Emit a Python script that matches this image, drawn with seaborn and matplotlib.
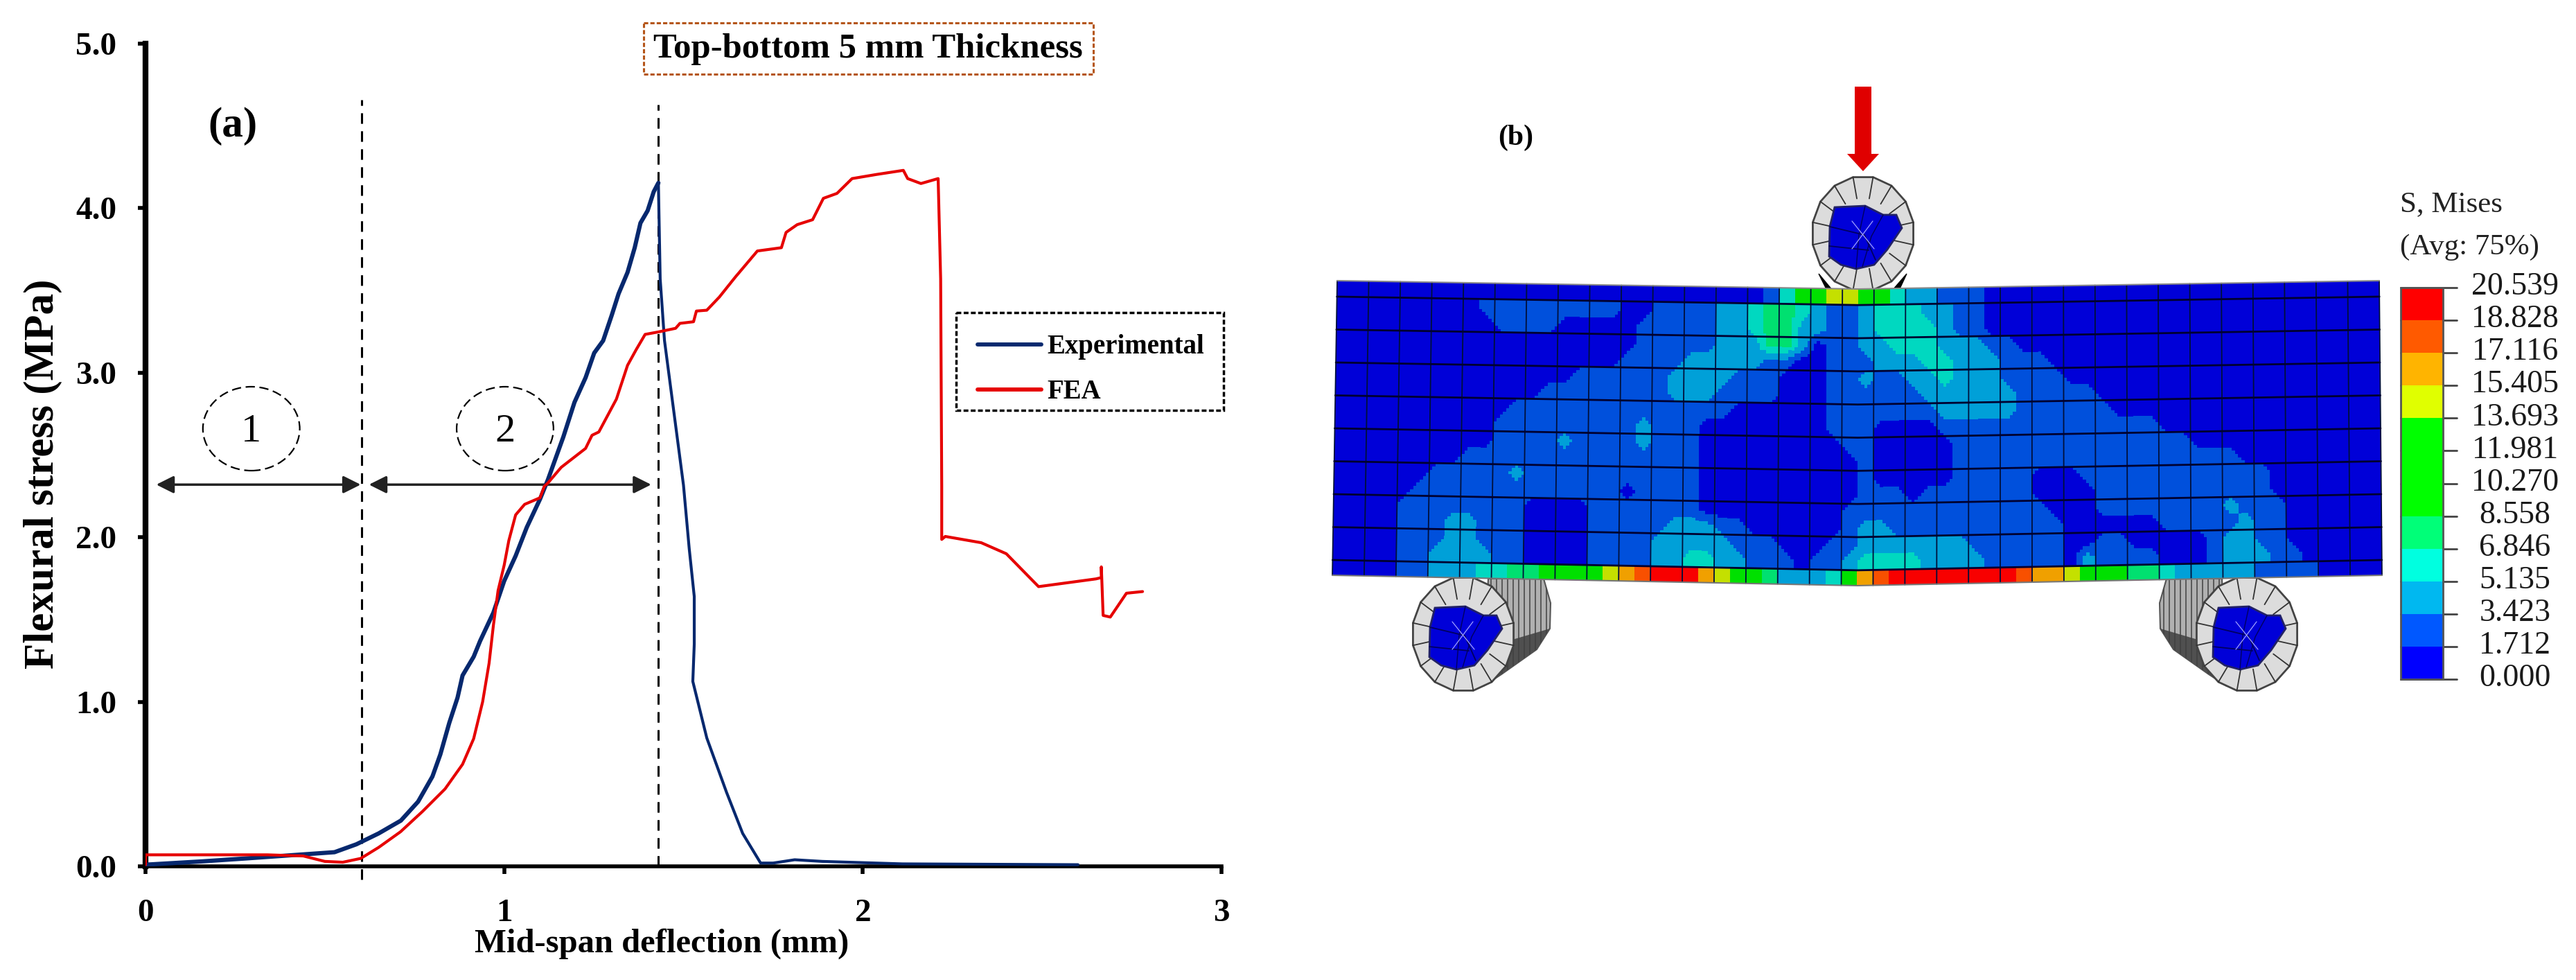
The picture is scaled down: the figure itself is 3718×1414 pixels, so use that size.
import numpy as np
import pandas as pd
import seaborn as sns
import matplotlib
matplotlib.use("Agg")
import matplotlib.pyplot as plt
from matplotlib.colors import ListedColormap
from matplotlib.patches import Ellipse, Polygon, Rectangle

# flexural curves
exp_x = [0, .157, .28, .403, .527, .588, .65, .712, .76, .80, .822, .847, .87, .884, .915, .933, .97, 1.0, 1.032,
         1.063, 1.10, 1.122, 1.165, 1.196, 1.227, 1.251, 1.276, 1.30, 1.319, 1.344, 1.364, 1.38, 1.40, 1.417, 1.43,
         1.435, 1.447, 1.50, 1.516, 1.53, 1.53, 1.526, 1.565, 1.62, 1.665, 1.715, 1.75, 1.81, 1.887, 2.11, 2.6]
exp_y = [.01, .03, .048, .067, .086, .134, .20, .278, .393, .546, .68, .872, 1.025, 1.16, 1.274, 1.37, 1.542, 1.734,
         1.887, 2.06, 2.232, 2.35, 2.61, 2.82, 2.97, 3.12, 3.195, 3.35, 3.48, 3.61, 3.76, 3.91, 3.985, 4.10, 4.154,
         3.57, 3.196, 2.316, 1.93, 1.64, 1.35, 1.124, .78, .45, .20, .02, .02, .04, .03, .015, .01]
fea_x = [0, 0, .157, .34, .44, .50, .55, .60, .65, .711, .773, .835, .884, .915, .94, .958, .97, .983, 1.0, 1.013,
         1.032, 1.057, 1.10, 1.112, 1.122, 1.159, 1.227, 1.245, 1.264, 1.313, 1.344, 1.368, 1.393, 1.43, 1.478, 1.49,
         1.528, 1.536, 1.565, 1.60, 1.644, 1.706, 1.773, 1.786, 1.817, 1.86, 1.89, 1.928, 1.97, 2.038, 2.113, 2.125,
         2.162, 2.21, 2.217, 2.22, 2.22, 2.23, 2.33, 2.40, 2.49, 2.65, 2.665, 2.665, 2.67, 2.69, 2.735, 2.78]
fea_y = [.01, .07, .07, .07, .063, .03, .025, .048, .115, .21, .335, .47, .62, .776, 1.0, 1.235, 1.465, 1.676, 1.83,
         1.98, 2.136, 2.2, 2.24, 2.31, 2.33, 2.425, 2.54, 2.62, 2.64, 2.84, 3.045, 3.14, 3.233, 3.248, 3.27, 3.30,
         3.31, 3.375, 3.38, 3.46, 3.58, 3.74, 3.76, 3.853, 3.90, 3.93, 4.06, 4.09, 4.18, 4.205, 4.23, 4.18,
         4.15, 4.18, 3.57, 2.31, 1.987, 2.005, 1.967, 1.90, 1.70, 1.747, 1.755, 1.82, 1.525, 1.515, 1.66, 1.67]
series_names = ["Experimental", "FEA"]
series_colors = ["#06286e", "#e60000"]
x_ticks = [0, 1, 2, 3]
y_ticks = [0, 1, 2, 3, 4, 5]
region_bounds = [0.603, 1.43]

# beam contour levels: rows top to bottom, half-element columns, "level:count"
beam_rows = [
    "0:27 1:1 3:1 5:2 8:2 5:2 3:1 2:2 1:3 0:25",
    "0:9 1:9 0:2 1:4 2:2 3:1 4:2 3:1 2:1 1:2 2:1 3:3 2:2 1:2 0:25",
    "0:10 1:4 0:5 1:5 2:2 3:1 4:2 2:2 1:2 2:1 3:4 2:1 1:2 0:25",
    "0:19 1:5 2:3 4:2 2:1 0:1 1:2 2:2 3:3 2:3 1:2 0:23",
    "0:18 1:4 2:5 1:2 0:2 1:3 2:3 3:2 2:3 1:3 0:21",
    "0:15 1:6 2:4 1:3 0:3 1:2 2:1 1:2 2:2 3:1 2:3 1:4 0:20",
    "0:13 1:8 2:3 1:4 0:3 1:6 2:6 1:5 0:18",
    "0:11 1:14 0:6 1:7 2:5 1:6 0:17",
    "0:10 1:9 2:1 1:3 0:8 1:3 0:4 1:14 0:14",
    "0:10 1:4 2:1 1:4 2:1 1:3 0:9 1:2 0:5 1:15 0:12",
    "0:8 1:15 0:10 1:1 0:5 1:18 0:9",
    "0:6 1:5 2:1 1:11 0:10 1:1 0:5 1:5 0:3 1:12 0:7",
    "0:5 1:13 0:1 1:4 0:10 1:3 0:1 1:7 0:4 1:11 0:7",
    "0:4 1:8 0:4 1:7 0:9 1:13 0:3 1:8 2:1 1:3 0:6",
    "0:4 1:3 2:2 1:3 0:4 1:5 2:3 1:2 0:6 1:1 2:2 1:11 0:6 1:5 2:1 1:2 0:6",
    "0:4 1:3 2:2 1:3 0:4 1:4 2:5 1:3 0:3 1:2 2:7 1:6 0:2 1:2 0:5 1:1 2:2 1:2 0:6",
    "0:4 1:2 2:4 1:2 0:4 1:4 2:2 3:2 2:2 1:3 0:1 1:2 2:1 3:4 2:4 1:5 0:1 2:1 1:4 0:3 1:1 2:3 1:2 0:5",
    "0:4 1:2 2:3 3:2 4:2 5:4 8:1 9:1 a:1 b:3 9:1 8:1 5:2 4:1 2:3 3:1 5:1 9:1 a:1 b:8 a:1 9:2 8:1 5:3 4:2 3:1 2:5 1:4 0:4",
]
mises_labels = ["20.539", "18.828", "17.116", "15.405", "13.693", "11.981", "10.270", "8.558", "6.846", "5.135",
                "3.423", "1.712", "0.000"]
legend_colors = ["#0000ff", "#0058ff", "#00b8f0", "#00ffe0", "#00ff78", "#00ff00", "#00ff00", "#00ff00", "#e0ff00",
                 "#ffb400", "#ff5a00", "#ff0000"]
beam_colors = ["#0000d8", "#0050dc", "#00a0d8", "#00d8c0", "#00e070", "#00e000", "#00e000", "#00e000", "#c4e000",
               "#f0a000", "#f85000", "#f80000"]

W, H = 3718, 1414
sns.set_theme(style="ticks")
plt.rcParams["font.family"] = ["Liberation Serif", "DejaVu Serif"]
fig = plt.figure(figsize=(W / 100, H / 100), dpi=100, facecolor="white")

# whole-figure axes in pixels, for panel (b) and the boxed title
ov = fig.add_axes([0, 0, 1, 1])
ov.set_xlim(0, W)
ov.set_ylim(H, 0)
ov.axis("off")

ax = fig.add_axes([210 / W, 1 - 1250 / H, 1553 / W, 1187 / H])
ax.patch.set_visible(False)

df = pd.concat([
    pd.DataFrame({"x": exp_x, "y": exp_y, "series": series_names[0]}),
    pd.DataFrame({"x": fea_x, "y": fea_y, "series": series_names[1]}),
])
sns.lineplot(data=df, x="x", y="y", hue="series", palette=dict(zip(series_names, series_colors)), sort=False,
             estimator=None, linewidth=3.0, ax=ax, zorder=4)
# the test curve is heavier up to the peak, the data there are noisy
rise = 35
sns.lineplot(x=exp_x[:rise], y=exp_y[:rise], color=series_colors[0], sort=False, estimator=None, linewidth=4.4,
             legend=False, ax=ax, zorder=3.9)

ax.set_xlim(0, 3)
ax.set_ylim(0, 5)
ax.set_xticks(x_ticks)
ax.set_yticks(y_ticks)
ax.set_yticklabels(["%.1f" % v for v in y_ticks])
ax.tick_params(axis="both", colors="black", labelsize=34, width=4, length=8)
ax.tick_params(axis="x", pad=26)
ax.tick_params(axis="y", pad=22)
for lab in ax.get_xticklabels() + ax.get_yticklabels():
    lab.set_fontweight("bold")
sns.despine(ax=ax)
ax.spines["left"].set_linewidth(6)
ax.spines["bottom"].set_linewidth(4)
ax.spines["left"].set_color("black")
ax.spines["bottom"].set_color("black")
ax.set_xlabel("Mid-span deflection (mm)", fontsize=35, fontweight="bold", color="black", va="center")
ax.xaxis.set_label_coords((955 - 210) / 1553, -(1362 - 1250) / 1187)
ax.set_ylabel("Flexural stress (MPa)", fontsize=44, fontweight="bold", color="black", va="center")
ax.yaxis.set_label_coords((62 - 210) / 1553, (1250 - 684) / 1187)

ax.legend(handles=ax.get_legend_handles_labels()[0][:2], labels=series_names, loc="upper left",
          bbox_to_anchor=((1380 - 210) / 1553, (1250 - 451) / 1187), borderaxespad=0, frameon=False,
          handlelength=2.37, handletextpad=0.2, labelspacing=0.72, borderpad=0.8,
          prop={"weight": "bold", "size": 28})
for t in ax.get_legend().get_texts():
    t.set_color("black")
for ln in ax.get_legend().get_lines():
    ln.set_linewidth(4.2)
ov.add_patch(Rectangle((1380, 451), 386, 141, fill=False, ec="black", lw=2.5, ls=(0, (2, 1))))

ax.plot([region_bounds[0]] * 2, [-0.08, 4.66], color="black", lw=2.2, ls=(0, (5, 3.5)), clip_on=False, zorder=3)
ax.plot([region_bounds[1]] * 2, [0, 4.63], color="black", lw=2.2, ls=(0, (5, 3.5)), clip_on=False, zorder=3)
for x0, x1 in [(0.03, 0.6), (0.623, 1.41)]:
    ax.annotate("", xy=(x1, 2.32), xytext=(x0, 2.32), zorder=2,
                arrowprops=dict(arrowstyle="<|-|>", color="#222222", lw=2.5, mutation_scale=38, shrinkA=0, shrinkB=0))
for xc, num in [(0.295, "1"), (1.0025, "2")]:
    ax.add_patch(Ellipse((xc, 2.66), 0.27, 0.51, fill=False, ec="black", lw=1.6, ls=(0, (6, 3))))
    ax.text(xc, 2.64, num, fontsize=42, ha="center", va="center", color="black")
ax.text(0.243, 4.5, "(a)", fontsize=44, fontweight="bold", ha="center", va="center", color="black")

ov.add_patch(Rectangle((929, 33), 649, 74, fill=False, ec="#b5561a", lw=2.2, ls=(0, (2, 1))))
ov.text(1253, 71, "Top-bottom 5 mm Thickness", fontsize=36.5, fontweight="bold", ha="center", va="center",
        color="black")
ov.text(2188, 199, "(b)", fontsize=30, fontweight="bold", ha="center", va="center", color="black")

# load arrow
ov.add_patch(Polygon([[2677, 125], [2701, 125], [2701, 222], [2712, 222], [2689, 247], [2666, 222], [2677, 222]],
                     fc="#e00000", ec="none"))

# rollers
inner_dx = [-41, 3, 29, 48, 56, 35, 16, -10, -32, -49, -48]
inner_dy = [-38, -40, -27, -27, -8, 23, 45, 51, 45, 33, -10]
barrel_dx = [36, 116, 126, 125, 106, 55, 29]
barrel_dy = [-80, -80, -45, -8, 22, 58, 75]


def draw_disc(cx, cy, rx=74, ry=83):
    ang = np.linspace(0, 2 * np.pi, 17)[:-1] + np.pi / 16
    ox, oy = cx + rx * np.cos(ang), cy + ry * np.sin(ang)
    ov.add_patch(Polygon(np.c_[ox, oy], fc="#dcdcdc", ec="#444444", lw=2, zorder=2))
    ov.plot(np.c_[ox, cx + 0.62 * rx * np.cos(ang)].T, np.c_[oy, cy + 0.62 * ry * np.sin(ang)].T,
            color="#333333", lw=1.3, zorder=2)
    ix, iy = cx + np.array(inner_dx), cy + np.array(inner_dy)
    ov.add_patch(Polygon(np.c_[ix, iy], fc="#0000d8", ec="#222266", lw=2, zorder=3))
    ov.plot([cx - 48, cx + 2, cx + 18], [cy - 10, cy + 2, cy + 38], color="#000060", lw=1.3, zorder=4)
    ov.plot([cx - 49, cx + 8], [cy + 18, cy + 24], color="#000060", lw=1.3, zorder=4)
    ov.plot([cx + 3, cx - 6, cx - 10], [cy - 40, cy + 2, cy + 51], color="#000060", lw=1.0, zorder=4)
    ov.plot([cx + 29, cx + 12, cx - 1], [cy - 27, cy + 4, cy + 48], color="#000060", lw=1.0, zorder=4)
    ov.plot([cx - 16, cx + 16], [cy - 18, cy + 22], color="#a0a0ff", lw=0.9, zorder=4)
    ov.plot([cx - 16, cx + 14], [cy + 22, cy - 18], color="#a0a0ff", lw=0.9, zorder=4)


def draw_barrel(cx, cy, side):
    pts = np.c_[cx + side * np.array(barrel_dx), cy + np.array(barrel_dy)]
    patch = Polygon(pts, fc="#b0b0b0", ec="#555555", lw=1.5, zorder=1)
    ov.add_patch(patch)
    low = Polygon(np.c_[cx + side * np.array([30, 125, 106, 55, 29]), cy + np.array([20, -8, 22, 58, 75])],
                  fc="#505050", ec="none", zorder=1)
    ov.add_patch(low)
    for dx in np.arange(40, 130, 8):
        ln, = ov.plot([cx + side * dx] * 2, [cy - 85, cy + 80], color="#404040", lw=1.1, zorder=1)
        ln.set_clip_path(patch)


draw_barrel(2112, 915, 1)
draw_barrel(3243, 915, -1)
draw_disc(2112, 915)
draw_disc(3243, 915)
draw_disc(2689, 337)
ov.add_patch(Polygon([[2625, 395], [2640, 425], [2650, 425]], fc="black", ec="black", zorder=1))
ov.add_patch(Polygon([[2752, 395], [2738, 425], [2726, 425]], fc="black", ec="black", zorder=1))

# beam: the inner rows are resampled so the contour edges run smoothly across the elements
levels = []
for row in beam_rows:
    cells = []
    for run in row.split():
        lev, n = run.split(":")
        cells += [int(lev, 16)] * int(n)
    levels.append(cells)
levels = np.array(levels, dtype=float)
ncols = levels.shape[1]
sub = 5
inner = levels[1:-1]
nrows = inner.shape[0]
cx_old, cy_old = np.arange(ncols) + 0.5, np.arange(nrows) + 0.5
cx_new = (np.arange(ncols * sub) + 0.5) / sub
cy_new = (np.arange(nrows * sub) + 0.5) / sub
fine = np.array([np.interp(cx_new, cx_old, r) for r in inner])
fine = np.array([np.interp(cy_new, cy_old, c) for c in fine.T]).T
fine = np.rint(fine)
grid = np.vstack([np.repeat(levels[:1], sub, axis=1), fine, np.repeat(levels[-1:], sub, axis=1)])

u = np.linspace(0, 1, ncols * sub + 1)
v = np.r_[0, 23 / 425 + np.arange(nrows * sub + 1) * (380 / 425) / (nrows * sub), 1]
U, V = np.meshgrid(u, v)
bend = 1 - np.abs(2 * U - 1)
beam_x = (1930 + 1504 * U) * (1 - V) + (1923 + 1515 * U) * V
beam_y = (405 + 12 * bend) * (1 - V) + (830 + 15 * bend) * V
ov.pcolormesh(beam_x, beam_y, grid, cmap=ListedColormap(beam_colors), vmin=-0.5, vmax=11.5, zorder=5,
              antialiased=False, shading="flat")
for j in range(0, ncols * sub + 1, 2 * sub):
    ov.plot(beam_x[:, j], beam_y[:, j], color="#00103a", lw=1.3, zorder=6)
for i in [1 + k * 2 * sub for k in range(9)]:
    ov.plot(beam_x[i, :], beam_y[i, :], color="#000030", lw=2.0, zorder=6)
ov.plot(beam_x[0, :], beam_y[0, :], color="#888888", lw=1.5, zorder=6)
ov.plot(beam_x[-1, :], beam_y[-1, :], color="#777777", lw=1.5, zorder=6)

# contour legend
cax = fig.add_axes([3465 / W, 1 - 980 / H, 61 / W, 565 / H])
sns.heatmap(np.arange(11, -1, -1).reshape(-1, 1), cmap=ListedColormap(legend_colors), vmin=-0.5, vmax=11.5, cbar=False,
            xticklabels=False, yticklabels=False, ax=cax)
cax.add_patch(Rectangle((0, 0), 1, 12, fill=False, ec="#555555", lw=2, clip_on=False))
tick_y = np.linspace(415, 980, len(mises_labels))
for yy, lab in zip(tick_y, mises_labels):
    ov.plot([3465, 3546], [yy, yy], color="#444444", lw=2, zorder=6)
    ov.text(3630, yy - 1, lab, fontsize=33, ha="center", va="center", color="#1a1a1a")
ov.text(3464, 295, "S, Mises", fontsize=31, ha="left", va="center", color="#222222")
ov.text(3464, 357, "(Avg: 75%)", fontsize=31, ha="left", va="center", color="#222222")

fig.savefig("out.png", dpi=100)
